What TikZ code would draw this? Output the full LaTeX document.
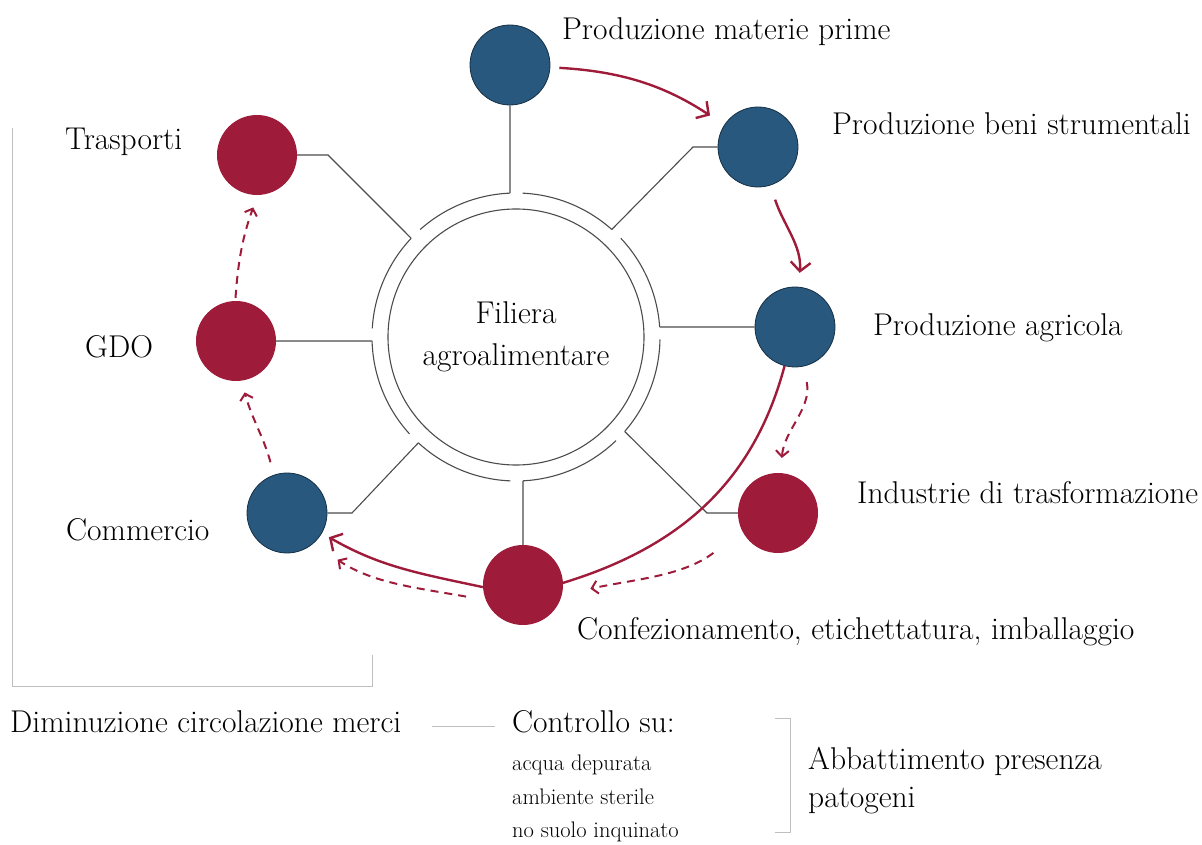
\documentclass[tikz,border=0pt]{standalone}
\usepackage{fontspec}
\usepackage{tikz}
\usetikzlibrary{arrows.meta,calc}

\definecolor{fblue}{RGB}{40,88,125}
\definecolor{fred}{RGB}{158,27,58}

\tikzset{
  stage/.style={circle, minimum size=80pt, inner sep=0},
  bstage/.style={stage, fill=fblue, draw=fblue!55!black, line width=0.8pt},
  rstage/.style={stage, fill=fred},
  lbl/.style={font=\fontsize{31.5}{38}\selectfont, inner sep=0, anchor=west},
  slbl/.style={font=\fontsize{22.5}{33.5}\selectfont, inner sep=0, anchor=west, align=left},
  spoke/.style={draw=black!70, line width=1.1pt},
  flow/.style={draw=fred, line width=2.4pt, -{Straight Barb[length=9pt,width=20pt]}},
  dflow/.style={draw=fred, line width=2pt, dash pattern=on 8pt off 6pt, -{Straight Barb[length=6pt,width=13pt]}},
  frame/.style={draw=black!25, line width=1pt}
}

\begin{document}
\begin{tikzpicture}[x=1pt, y=1pt]
\useasboundingbox (0,0) rectangle (1202,844);

% centre
\node (fil) [circle, draw=black!70, line width=1.1pt, minimum size=256pt,
  align=center, font=\fontsize{31.5}{42}\selectfont] at (516,507) {Filiera\\agroalimentare};

% outer ring, broken at every spoke
\foreach \a/\b in {92.4/48.3, 48.3/4, 4/-41, -41/-87.2, -87.2/-132.7, -132.7/-178.4, 181.6/136.7, 136.7/92.4}
  \draw[spoke] ($(fil.center)+(\a-5:144)$) arc[start angle=\a-5, end angle=\b, radius=144];
\foreach \n/\a in {mp/92.4, bs/48.3, agr/4, ind/-41, conf/-87.2, comm/-132.7, gdo/-178.4, tras/136.7}
  \coordinate (r\n) at ($(fil.center)+(\a:144)$);

% stages
\node (mp)   [bstage] at (510,779) {};
\node (bs)   [bstage] at (758,697) {};
\node (agr)  [bstage] at (795,517) {};
\node (ind)  [rstage] at (778,331) {};
\node (comm) [bstage] at (287,331) {};
\node (gdo)  [rstage] at (236,503) {};
\node (tras) [rstage] at (257,689) {};

% spokes
\draw[spoke] (mp) -- (rmp);
\draw[spoke] (bs) -- ++(-65,0) -- (rbs);
\draw[spoke] (agr) -- (ragr);
\draw[spoke] (ind) -- ++(-71,0) -- (rind);
\draw[spoke] (comm) -- ++(65,0) -- (rcomm);
\draw[spoke] (gdo) -- (rgdo);
\draw[spoke] (tras) -- ++(71,0) -- (rtras);

% flows
\draw[flow, shorten <=9pt, shorten >=17pt] (mp) to[bend left=15] (bs);
\draw[flow, shorten <=15pt, shorten >=14pt] (bs) to[out=-72, in=85] (agr);
\coordinate (cf) at (523,259);
\draw[draw=fred, line width=2.4pt] (agr.-105) to[out=-105, in=17] ($(cf)+(3:40)$);
\node (conf) [rstage] at (cf) {};
\draw[spoke] (conf) -- (rconf);
\draw[flow, shorten >=8pt] (conf.183) to[out=168, in=-30] (comm);

\draw[dflow, shorten <=16pt, shorten >=15pt] (agr) to[out=-78, in=86] (ind);
\draw[dflow, shorten <=36pt, shorten >=29pt] (ind.207) to[out=217, in=12] (conf.-14);
\draw[dflow, shorten <=20pt, shorten >=29pt] (conf.202) to[out=170, in=-34] (comm.-49);
\draw[dflow, shorten <=13pt, shorten >=12pt] (comm.109) to[out=105, in=-75] (gdo.-82);
\draw[dflow, shorten <=3pt, shorten >=13pt] (gdo.91) to[out=86, in=-110] (tras.-89);

% labels
\node (lmp)   [lbl] at (562,812) {Produzione materie prime};
\node (lbs)   [lbl] at (832,720) {Produzione beni strumentali};
\node (lagr)  [lbl] at (873,516) {Produzione agricola};
\node (lind)  [lbl] at (857,351) {Industrie di trasformazione};
\node (lconf) [lbl] at (577,212) {Confezionamento, etichettatura, imballaggio};
\node (ltras) [lbl] at (65,702)  {Trasporti};
\node (lgdo)  [lbl] at (85,497)  {GDO};
\node (lcomm) [lbl] at (66,314)  {Commercio};

% bottom notes
\draw[frame] (12,716) -- (12,158) -- (372,158) -- (372,189);
\node (ldim)  [lbl] at (10,122)  {Diminuzione circolazione merci};
\node (lctrl) [lbl] at (512,122) {Controllo su:};
\draw[frame] ($(lctrl.west)+(-80,-4)$) -- ($(lctrl.west)+(-17,-4)$);
\node (lacq)  [slbl, anchor=north west] at (512,89) {acqua depurata\\ambiente sterile\\no suolo inquinato};
\draw[frame] (775,126) -- (790,126) -- (790,12) -- (775,12);
\node (labb)  [lbl, align=left, font=\fontsize{31.5}{38}\selectfont] at (808,63) {Abbattimento presenza\\patogeni};
\end{tikzpicture}
\end{document}
